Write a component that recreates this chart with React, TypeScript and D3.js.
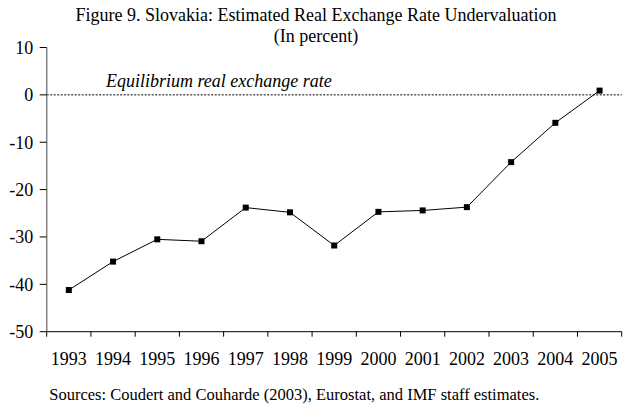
import React from "react";
import * as d3 from "d3";

const years = ["1993","1994","1995","1996","1997","1998","1999","2000","2001","2002","2003","2004","2005"];
const undervaluation = [-41.2,-35.2,-30.5,-30.9,-23.8,-24.8,-31.8,-24.7,-24.4,-23.7,-14.2,-5.9,0.9];
const yTicks = [10,0,-10,-20,-30,-40,-50];

const W = 624, H = 404;
const left = 46.7, right = 621.7, top = 47.5, bottom = 331.7;
const font = "'Liberation Serif', 'Times New Roman', serif";

export default function App() {
  const x = d3.scaleBand<string>().domain(years).range([left, right]).padding(0);
  const y = d3.scaleLinear().domain([-50, 10]).range([bottom, top]);
  const line = d3.line<number>()
    .x((_, i) => x(years[i])! + x.bandwidth() / 2)
    .y(d => y(d));
  const ms = 6;
  return (
    <svg width={W} height={H} style={{ position: "absolute", left: 0, top: 0, background: "#fff" }} fontFamily={font}>
      <rect width={W} height={H} fill="#fff" />
      <text x={316} y={21} textAnchor="middle" fontSize={18}>Figure 9. Slovakia: Estimated Real Exchange Rate Undervaluation</text>
      <text x={316} y={42} textAnchor="middle" fontSize={18}>(In percent)</text>
      <line x1={left} x2={right} y1={y(0)} y2={y(0)} stroke="#000" strokeWidth={1} strokeDasharray="2,1.5" />
      <text x={106} y={87.3} fontSize={18} fontStyle="italic">Equilibrium real exchange rate</text>
      <line x1={left} x2={left} y1={top} y2={bottom} stroke="#808080" strokeWidth={1.5} />
      {yTicks.map(t => (
        <g key={t}>
          <line x1={left - 7} x2={left} y1={y(t)} y2={y(t)} stroke="#000" strokeWidth={1} />
          <text x={33.3} y={y(t)} dy="0.35em" textAnchor="end" fontSize={18}>{t}</text>
        </g>
      ))}
      <line x1={left} x2={right} y1={bottom} y2={bottom} stroke="#000" strokeWidth={1} />
      {[...years.map(yr => x(yr)!), right].map((px, i) => (
        <line key={i} x1={px} x2={px} y1={bottom} y2={bottom + 5} stroke="#000" strokeWidth={1} />
      ))}
      {years.map(yr => (
        <text key={yr} x={x(yr)! + x.bandwidth() / 2} y={365} textAnchor="middle" fontSize={18}>{yr}</text>
      ))}
      <path d={line(undervaluation)!} fill="none" stroke="#000" strokeWidth={1} />
      {undervaluation.map((v, i) => (
        <rect key={i} x={x(years[i])! + x.bandwidth() / 2 - ms / 2} y={y(v) - ms / 2} width={ms} height={ms} fill="#000" />
      ))}
      <text x={49.3} y={400} fontSize={16.5}>Sources: Coudert and Couharde (2003), Eurostat, and IMF staff estimates.</text>
    </svg>
  );
}
